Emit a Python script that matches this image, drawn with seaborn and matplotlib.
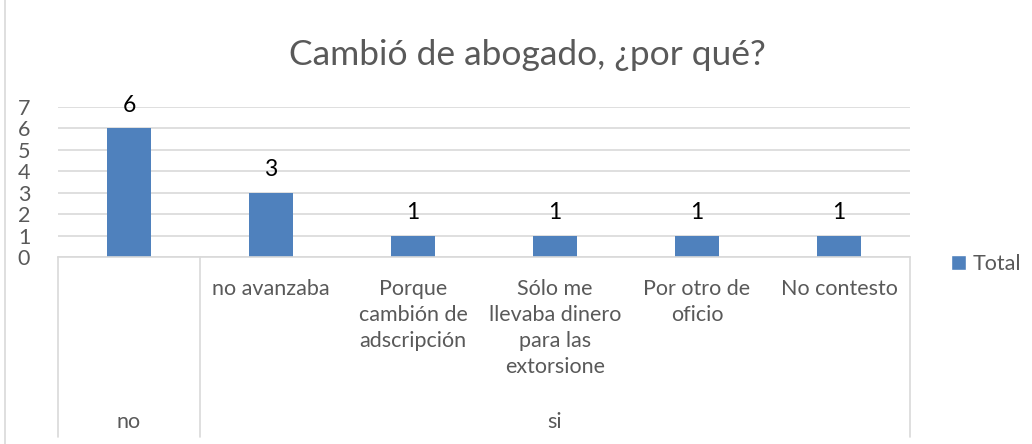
import matplotlib
matplotlib.use("Agg")
import matplotlib.pyplot as plt
import matplotlib.transforms as mtrans
import seaborn as sns
import pandas as pd
from matplotlib.patches import Patch

groups = ["no", "si", "si", "si", "si", "si"]
reasons = ["", "no avanzaba", "Porque\ncambión de\nadscripción",
           "Sólo me\nllevaba dinero\npara las\nextorsione",
           "Por otro de\noficio", "No contesto"]
values = [6, 3, 1, 1, 1, 1]
title = "Cambió de abogado, ¿por qué?"
series_name = "Total"

sns.set_theme(style="white")
plt.rcParams["font.family"] = ["Lato", "DejaVu Sans"]

gray = "#595959"
grid = "#D9D9D9"
blue = "#4F81BD"

df = pd.DataFrame({"pos": [str(i) for i in range(len(values))], "value": values})

fig = plt.figure(figsize=(10.32, 4.44), dpi=100)
ax = fig.add_axes([58 / 1032, 1 - 257 / 444, (910 - 58) / 1032, (257 - 107) / 444])
sns.barplot(data=df, x="pos", y="value", color=blue, width=0.31, ax=ax,
            saturation=1, edgecolor="none")
ax.set_ylim(0, 7)
ax.set_xlim(-0.5, len(values) - 0.5)
ax.set_yticks(range(0, 8))
ax.tick_params(axis="y", labelsize=15.5, labelcolor=gray, length=0, pad=20)
ax.yaxis.grid(True, color=grid, linewidth=1.2)
ax.set_axisbelow(True)
for s in ["left", "right", "top"]:
    ax.spines[s].set_visible(False)
ax.spines["bottom"].set_color(grid)
ax.spines["bottom"].set_linewidth(1.2)
ax.set_xlabel("")
ax.set_ylabel("")

ax.set_xticks(range(len(values)))
ax.set_xticklabels(reasons, fontsize=15.5, color=gray, linespacing=1.37, va="top")
ax.tick_params(axis="x", length=0, pad=16)

for c in ax.containers:
    ax.bar_label(c, fontsize=16.5, color="black", padding=9)

trans = mtrans.blended_transform_factory(ax.transData, fig.transFigure)
ybot = 1 - 437 / 444
ytop = 1 - 257 / 444
bounds = [-0.5]
for i in range(1, len(groups)):
    if groups[i] != groups[i - 1]:
        bounds.append(i - 0.5)
bounds.append(len(groups) - 0.5)
for b in bounds:
    ax.plot([b, b], [ybot, ytop], transform=trans, color=grid, lw=1.2, clip_on=False)
start = 0
for i in range(1, len(groups) + 1):
    if i == len(groups) or groups[i] != groups[start]:
        ax.text((start + i - 1) / 2, 1 - 422 / 444, groups[start], transform=trans,
                ha="center", va="center", fontsize=15.5, color=gray)
        start = i

fig.text(527 / 1032, 1 - 55 / 444, title, ha="center", va="center", fontsize=25.5, color=gray)

fig.add_artist(plt.Line2D([5 / 1032, 5 / 1032], [0, 1], color=grid, lw=1.2))

fig.legend(handles=[Patch(facecolor=blue, label=series_name)],
           loc="center left", bbox_to_anchor=(932 / 1032, 1 - 264 / 444),
           frameon=False, fontsize=15.5, handlelength=0.7, handleheight=0.7,
           handletextpad=0.3, labelcolor=gray)

fig.savefig("out.png", dpi=100)
